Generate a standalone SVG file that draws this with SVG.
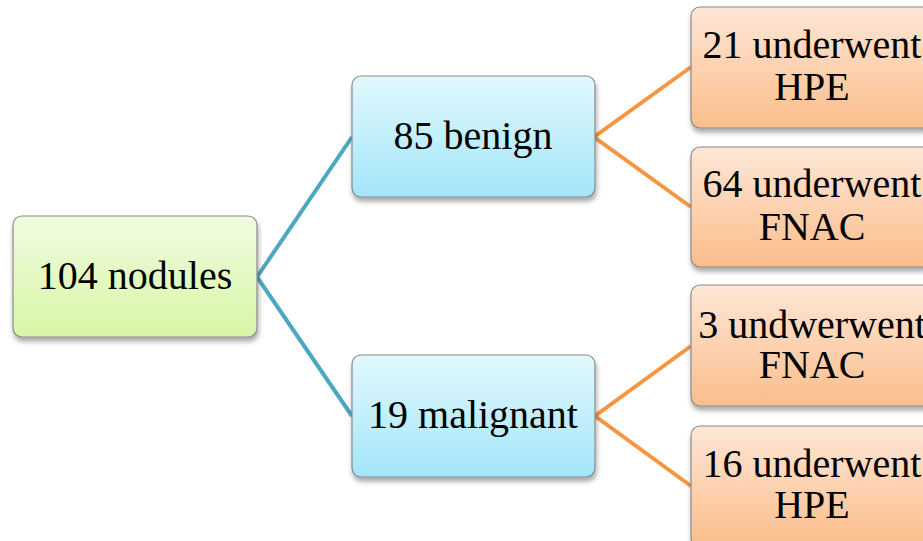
<svg xmlns="http://www.w3.org/2000/svg" width="923" height="541" viewBox="0 0 923 541">
<defs>
<linearGradient id="gGreen" x1="0" y1="0" x2="0" y2="1"><stop offset="0" stop-color="#f1fbe0"/><stop offset="1" stop-color="#d6f7a6"/></linearGradient>
<linearGradient id="gBlue" x1="0" y1="0" x2="0" y2="1"><stop offset="0" stop-color="#e2f8fd"/><stop offset="1" stop-color="#a3e6fa"/></linearGradient>
<linearGradient id="gOrange" x1="0" y1="0" x2="0" y2="1"><stop offset="0" stop-color="#fde7d7"/><stop offset="1" stop-color="#fbbd8b"/></linearGradient>
<filter id="sh" x="-10%" y="-10%" width="130%" height="140%"><feDropShadow dx="1" dy="4" stdDeviation="2.5" flood-color="#000" flood-opacity="0.35"/></filter>
</defs>
<style>
.box{stroke:#8a8a8a;stroke-width:1.2;filter:url(#sh)}
.t{font-family:"Liberation Serif","Times New Roman",serif;font-size:40px;fill:#000;text-anchor:middle}
.c1{stroke:#4ba7c2;stroke-width:4;fill:none}
.c2{stroke:#f7963f;stroke-width:4;fill:none}
</style>
<rect width="923" height="541" fill="#fff"/>
<g id="connectors">
<polyline class="c1" points="352,137 257,277 352,416"/>
<polyline class="c2" points="691,67 594,137 691,207"/>
<polyline class="c2" points="691,346 595,416 691,486"/>
</g>
<g id="root">
<rect class="box" x="13" y="216" width="244" height="121" rx="9" fill="url(#gGreen)"/>
<text class="t" x="135" y="289">104 nodules</text>
</g>
<g id="benign">
<rect class="box" x="352" y="76" width="243" height="121" rx="9" fill="url(#gBlue)"/>
<text class="t" x="473" y="149">85 benign</text>
</g>
<g id="malignant">
<rect class="box" x="352" y="355" width="243" height="122" rx="9" fill="url(#gBlue)"/>
<text class="t" x="473" y="428">19 malignant</text>
</g>
<g id="b-hpe">
<rect class="box" x="691" y="7" width="243" height="121" rx="9" fill="url(#gOrange)"/>
<text class="t" x="812" y="58">21 underwent</text>
<text class="t" x="812" y="100">HPE</text>
</g>
<g id="b-fnac">
<rect class="box" x="691" y="147" width="243" height="120" rx="9" fill="url(#gOrange)"/>
<text class="t" x="812" y="197">64 underwent</text>
<text class="t" x="812" y="240">FNAC</text>
</g>
<g id="m-fnac">
<rect class="box" x="691" y="285" width="243" height="121" rx="9" fill="url(#gOrange)"/>
<text class="t" x="812" y="338">3 undwerwent</text>
<text class="t" x="812" y="378">FNAC</text>
</g>
<g id="m-hpe">
<rect class="box" x="691" y="426" width="243" height="121" rx="9" fill="url(#gOrange)"/>
<text class="t" x="812" y="477">16 underwent</text>
<text class="t" x="812" y="518">HPE</text>
</g>
</svg>
